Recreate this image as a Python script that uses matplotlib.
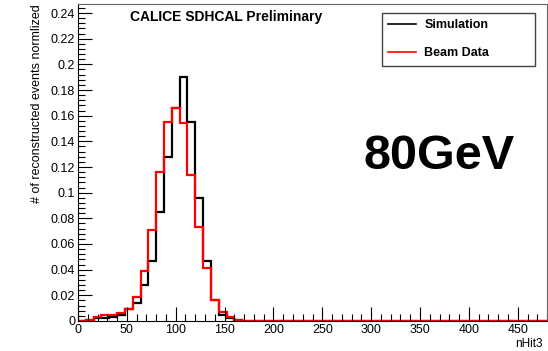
import numpy as np
import matplotlib.pyplot as plt
from matplotlib.ticker import MultipleLocator

# nHit3 histogram, 60 bins of width 8 between 0 and 480
bin_edges = np.arange(0, 488, 8)

sim_head = [0.0, 0.001, 0.002, 0.002, 0.003, 0.005, 0.009, 0.014, 0.028, 0.047,
            0.085, 0.128, 0.166, 0.190, 0.155, 0.096, 0.047, 0.016, 0.005, 0.002,
            0.0005]
data_head = [0.0, 0.001, 0.003, 0.005, 0.005, 0.006, 0.009, 0.019, 0.039, 0.071,
             0.116, 0.155, 0.166, 0.154, 0.114, 0.073, 0.041, 0.016, 0.007, 0.003,
             0.001]
n_bins = len(bin_edges) - 1
simulation = np.array(sim_head + [0.0] * (n_bins - len(sim_head)))
beam_data = np.array(data_head + [0.0] * (n_bins - len(data_head)))

plt.rcParams['font.family'] = ['Liberation Sans', 'DejaVu Sans']

fig = plt.figure(figsize=(5.48, 3.51), dpi=100)
ax = fig.add_axes([0.1423, 0.0855, 0.856, 0.903])

ax.stairs(simulation, bin_edges, color='black', lw=1.6, label='Simulation')
ax.stairs(beam_data, bin_edges, color='red', lw=1.6, label='Beam Data')

ax.set_xlim(0, 480)
ax.set_ylim(0, 0.247)
ax.xaxis.set_major_locator(MultipleLocator(50))
ax.xaxis.set_minor_locator(MultipleLocator(10))
ax.yaxis.set_major_locator(MultipleLocator(0.02))
ax.yaxis.set_minor_locator(MultipleLocator(0.004))
ax.yaxis.set_major_formatter(plt.FuncFormatter(lambda v, p: ('%g' % round(v, 3))))

ax.tick_params(which='both', direction='in', top=False, right=False, labelsize=9)
ax.tick_params(which='major', length=10, width=0.8)
ax.tick_params(which='minor', length=5, width=0.8)
ax.tick_params(axis='x', pad=2)
ax.tick_params(axis='y', pad=2)
for side in ['top', 'right']:
    ax.spines[side].set_color('#666666')

ax.set_ylabel('# of reconstructed events normlized', fontsize=9, loc='top')
ax.yaxis.set_label_coords(-0.075, 1.0)
ax.set_xlabel('nHit3', fontsize=8.5, loc='right')
ax.xaxis.set_label_coords(0.99, -0.055)

ax.text(0.11, 0.96, 'CALICE SDHCAL Preliminary', transform=ax.transAxes,
        fontsize=10, fontweight='bold', va='center', ha='left')
ax.text(0.608, 0.52, '80GeV', transform=ax.transAxes, fontsize=35,
        fontweight='bold', va='center', ha='left')

leg = ax.legend(loc='upper left', bbox_to_anchor=(0.648, 0.972, 0.326, 0.0),
                mode='expand', frameon=True,
                fancybox=False, edgecolor='#444444', framealpha=1,
                prop={'weight': 'bold', 'size': 9}, handlelength=2.2,
                labelspacing=1.3, borderpad=0.5, handletextpad=0.7,
                borderaxespad=0.0)
leg.get_frame().set_linewidth(1.0)
for h in leg.get_lines():
    h.set_linewidth(1.2)

fig.savefig('out.png', dpi=100)
